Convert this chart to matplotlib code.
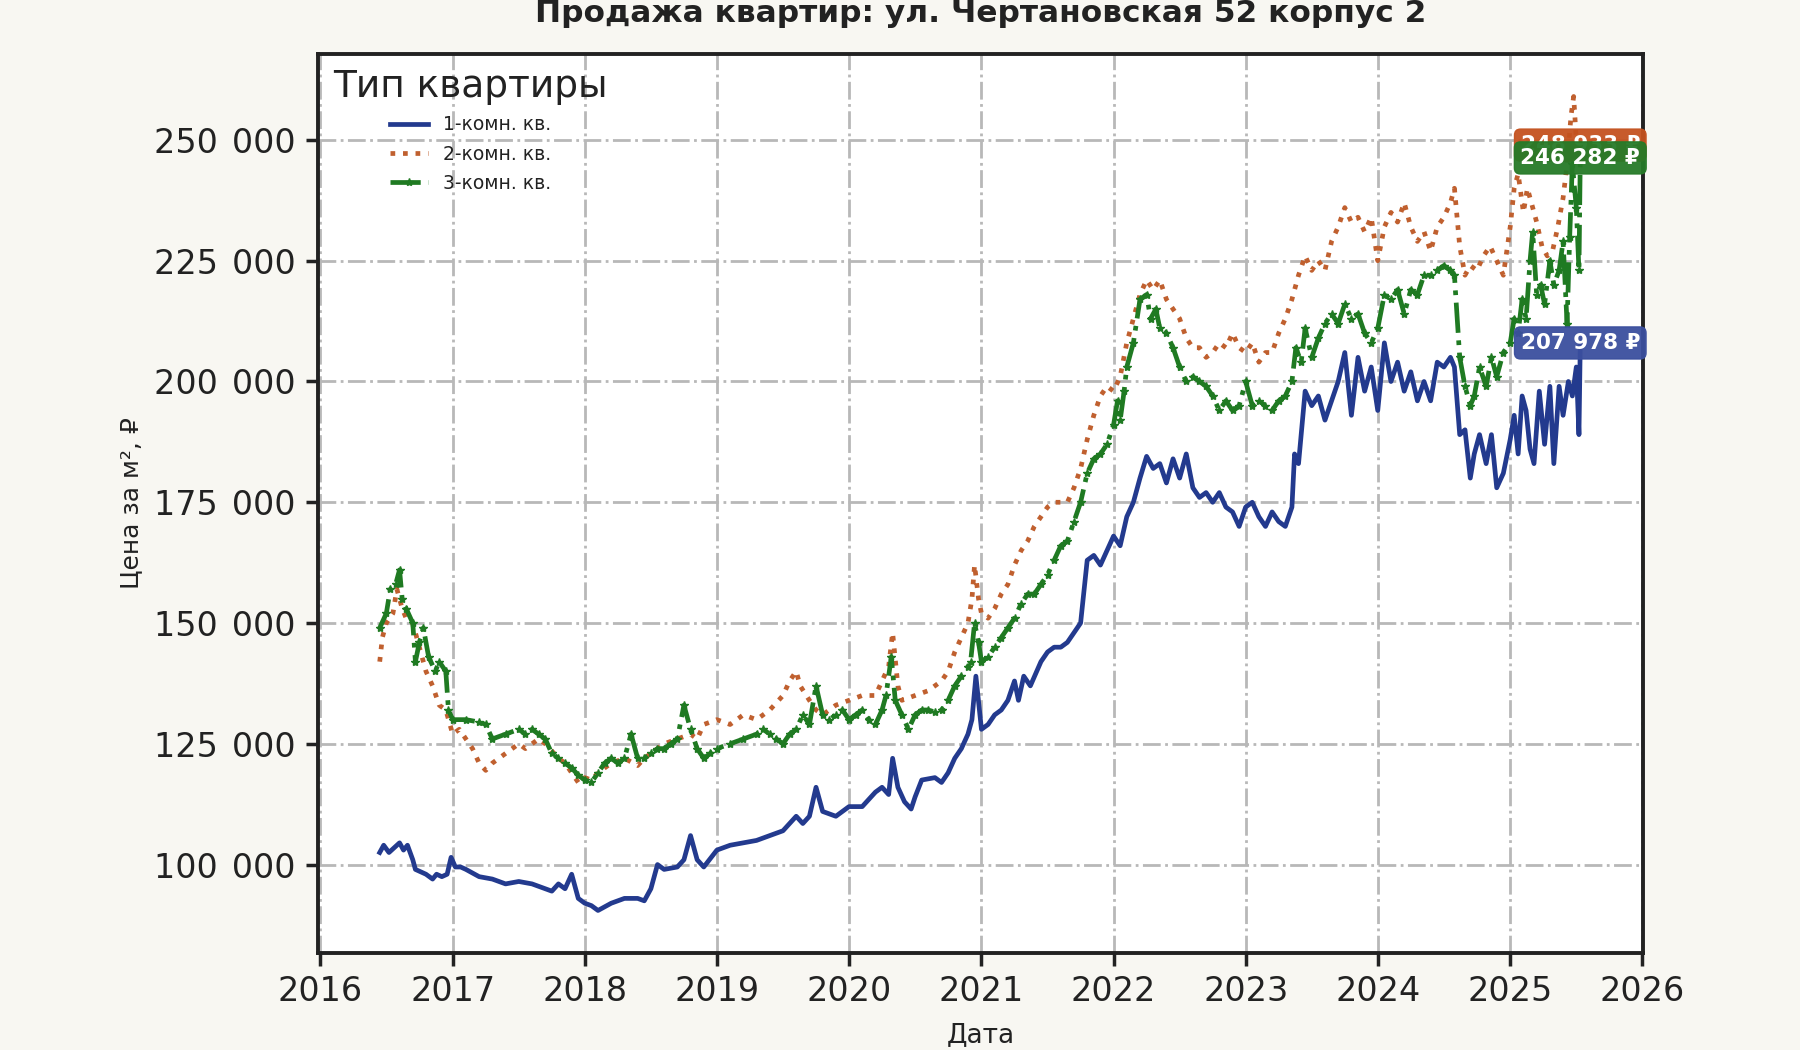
import matplotlib
matplotlib.use('Agg')
import matplotlib.pyplot as plt
import matplotlib.dates as mdates
from matplotlib.ticker import FuncFormatter
import pandas as pd

# price per m2, x as decimal years
years_1 = [2016.45, 2016.48, 2016.52, 2016.56, 2016.6, 2016.63, 2016.66, 2016.7, 2016.72, 2016.76,
           2016.8, 2016.85, 2016.88, 2016.92, 2016.96, 2016.99, 2017.02, 2017.06, 2017.1, 2017.2,
           2017.3, 2017.4, 2017.5, 2017.6, 2017.7, 2017.75, 2017.8, 2017.85, 2017.9, 2017.95,
           2018.0, 2018.05, 2018.1, 2018.2, 2018.3, 2018.4, 2018.45, 2018.5, 2018.55, 2018.6,
           2018.7, 2018.75, 2018.8, 2018.85, 2018.9, 2019.0, 2019.1, 2019.2, 2019.3, 2019.4,
           2019.5, 2019.6, 2019.65, 2019.7, 2019.75, 2019.8, 2019.9, 2020.0, 2020.1, 2020.2,
           2020.25, 2020.3, 2020.33, 2020.37, 2020.42, 2020.47, 2020.5, 2020.55, 2020.65, 2020.7,
           2020.75, 2020.8, 2020.85, 2020.9, 2020.93, 2020.96, 2021.0, 2021.05, 2021.1, 2021.15,
           2021.2, 2021.25, 2021.28, 2021.32, 2021.37, 2021.45, 2021.5, 2021.55, 2021.6, 2021.65,
           2021.7, 2021.75, 2021.8, 2021.85, 2021.9, 2021.95, 2022.0, 2022.05, 2022.1, 2022.15,
           2022.2, 2022.25, 2022.3, 2022.35, 2022.4, 2022.45, 2022.5, 2022.55, 2022.6, 2022.65,
           2022.7, 2022.75, 2022.8, 2022.85, 2022.9, 2022.95, 2023.0, 2023.05, 2023.1, 2023.15,
           2023.2, 2023.25, 2023.3, 2023.35, 2023.37, 2023.4, 2023.45, 2023.5, 2023.55, 2023.6,
           2023.65, 2023.7, 2023.75, 2023.8, 2023.85, 2023.9, 2023.95, 2024.0, 2024.05, 2024.1,
           2024.15, 2024.2, 2024.25, 2024.3, 2024.35, 2024.4, 2024.45, 2024.5, 2024.55, 2024.58,
           2024.62, 2024.66, 2024.7, 2024.73, 2024.77, 2024.82, 2024.86, 2024.9, 2024.95, 2025.0,
           2025.03, 2025.06, 2025.09, 2025.12, 2025.15, 2025.18, 2025.22, 2025.26, 2025.3, 2025.33,
           2025.37, 2025.4, 2025.44, 2025.47, 2025.5, 2025.52, 2025.53]
price_1 = [102500, 104000, 102500, 103500, 104500, 103000, 104000, 101000, 99000, 98500,
           98000, 97000, 98000, 97500, 98000, 101500, 99500, 99500, 99000, 97500,
           97000, 96000, 96500, 96000, 95000, 94500, 96000, 95000, 98000, 93000,
           92000, 91500, 90500, 92000, 93000, 93000, 92500, 95000, 100000, 99000,
           99500, 101000, 106000, 101000, 99500, 103000, 104000, 104500, 105000, 106000,
           107000, 110000, 108500, 110000, 116000, 111000, 110000, 112000, 112000, 115000,
           116000, 114500, 122000, 116000, 113000, 111500, 114000, 117500, 118000, 117000,
           119000, 122000, 124000, 127000, 130000, 139000, 128000, 129000, 131000, 132000,
           134000, 138000, 134000, 139000, 137000, 142000, 144000, 145000, 145000, 146000,
           148000, 150000, 163000, 164000, 162000, 165000, 168000, 166000, 172000, 175000,
           180000, 184500, 182000, 183000, 179000, 184000, 180000, 185000, 178000, 176000,
           177000, 175000, 177000, 174000, 173000, 170000, 174000, 175000, 172000, 170000,
           173000, 171000, 170000, 174000, 185000, 183000, 198000, 195000, 197000, 192000,
           196000, 200000, 206000, 193000, 205000, 198000, 203000, 194000, 208000, 200000,
           204000, 198000, 202000, 196000, 200000, 196000, 204000, 203000, 205000, 203000,
           189000, 190000, 180000, 185000, 189000, 183000, 189000, 178000, 181000, 188000,
           193000, 185000, 197000, 194000, 186000, 183000, 198000, 187000, 199000, 183000,
           199000, 193000, 200000, 197000, 203000, 189000, 207978]

years_2 = [2016.45, 2016.47, 2016.5, 2016.55, 2016.58, 2016.62, 2016.65, 2016.7, 2016.75, 2016.8,
           2016.85, 2016.9, 2016.95, 2017.0, 2017.05, 2017.1, 2017.15, 2017.2, 2017.25, 2017.3,
           2017.35, 2017.4, 2017.5, 2017.55, 2017.6, 2017.65, 2017.7, 2017.8, 2017.85, 2017.9,
           2017.95, 2018.0, 2018.05, 2018.1, 2018.15, 2018.2, 2018.3, 2018.4, 2018.45, 2018.5,
           2018.6, 2018.7, 2018.8, 2018.85, 2018.9, 2019.0, 2019.1, 2019.2, 2019.3, 2019.4,
           2019.5, 2019.55, 2019.6, 2019.63, 2019.7, 2019.75, 2019.8, 2019.9, 2020.0, 2020.1,
           2020.2, 2020.25, 2020.3, 2020.33, 2020.37, 2020.4, 2020.5, 2020.6, 2020.7, 2020.75,
           2020.8, 2020.85, 2020.9, 2020.93, 2020.95, 2020.98, 2021.0, 2021.05, 2021.1, 2021.15,
           2021.2, 2021.25, 2021.3, 2021.35, 2021.4, 2021.45, 2021.5, 2021.55, 2021.6, 2021.65,
           2021.7, 2021.75, 2021.8, 2021.85, 2021.9, 2021.95, 2022.0, 2022.05, 2022.1, 2022.15,
           2022.2, 2022.25, 2022.3, 2022.35, 2022.4, 2022.45, 2022.5, 2022.55, 2022.6, 2022.65,
           2022.7, 2022.75, 2022.8, 2022.85, 2022.9, 2022.95, 2023.0, 2023.05, 2023.1, 2023.15,
           2023.2, 2023.25, 2023.3, 2023.35, 2023.4, 2023.45, 2023.5, 2023.55, 2023.6, 2023.65,
           2023.7, 2023.75, 2023.8, 2023.85, 2023.9, 2023.95, 2024.0, 2024.05, 2024.1, 2024.15,
           2024.2, 2024.25, 2024.3, 2024.35, 2024.4, 2024.45, 2024.5, 2024.55, 2024.58, 2024.62,
           2024.66, 2024.7, 2024.75, 2024.8, 2024.85, 2024.9, 2024.95, 2025.0, 2025.03, 2025.06,
           2025.1, 2025.13, 2025.16, 2025.2, 2025.24, 2025.28, 2025.32, 2025.36, 2025.4, 2025.43,
           2025.46, 2025.48, 2025.5, 2025.53]
price_2 = [142000, 147000, 150000, 152000, 157000, 153000, 151000, 150000, 145000, 140000,
           137000, 133000, 132000, 127000, 128000, 126000, 124000, 121000, 119500, 121000,
           122000, 123000, 125000, 124000, 125000, 126000, 125000, 122000, 121000, 119000,
           117000, 118000, 117500, 119000, 120000, 121000, 122000, 120500, 122000, 123000,
           125000, 126000, 127000, 126000, 129000, 130000, 129000, 131000, 130000, 132000,
           135000, 138000, 140000, 137000, 134000, 132000, 131000, 133000, 134000, 135000,
           135000, 138000, 141000, 148000, 137000, 134000, 135000, 136000, 138000, 140000,
           144000, 147000, 150000, 155000, 162000, 155000, 152000, 151000, 153000, 156000,
           158000, 162000, 165000, 167000, 170000, 172000, 174000, 175000, 175000, 175000,
           178000, 182000, 188000, 193000, 197000, 199000, 198000, 201000, 208000, 213000,
           218000, 221000, 219000, 221000, 217000, 215000, 213000, 209000, 207000, 207000,
           205000, 206000, 208000, 207000, 210000, 207000, 206000, 208000, 204000, 206000,
           206000, 210000, 213000, 217000, 222000, 226000, 223000, 225000, 223000, 229000,
           232000, 236000, 233000, 234000, 231000, 234000, 225000, 232000, 235000, 233000,
           237000, 232000, 229000, 231000, 227000, 232000, 234000, 237000, 240000, 228000,
           222000, 224000, 223000, 226000, 228000, 225000, 222000, 232000, 240000, 243000,
           235000, 240000, 237000, 233000, 228000, 226000, 227000, 232000, 238000, 245000,
           255000, 259000, 250000, 248933]

years_3 = [2016.45, 2016.5, 2016.53, 2016.57, 2016.6, 2016.62, 2016.65, 2016.7, 2016.72, 2016.75,
           2016.78, 2016.82, 2016.87, 2016.9, 2016.95, 2016.97, 2017.0, 2017.1, 2017.2, 2017.25,
           2017.3, 2017.4, 2017.5, 2017.55, 2017.6, 2017.65, 2017.7, 2017.75, 2017.8, 2017.85,
           2017.9, 2017.95, 2018.0, 2018.05, 2018.1, 2018.15, 2018.2, 2018.25, 2018.3, 2018.35,
           2018.4, 2018.45, 2018.5, 2018.55, 2018.6, 2018.65, 2018.7, 2018.75, 2018.8, 2018.85,
           2018.9, 2018.95, 2019.0, 2019.1, 2019.2, 2019.3, 2019.35, 2019.4, 2019.45, 2019.5,
           2019.55, 2019.6, 2019.65, 2019.7, 2019.75, 2019.8, 2019.85, 2019.9, 2019.95, 2020.0,
           2020.05, 2020.1, 2020.15, 2020.2, 2020.25, 2020.28, 2020.32, 2020.35, 2020.4, 2020.45,
           2020.5, 2020.55, 2020.6, 2020.65, 2020.7, 2020.75, 2020.8, 2020.85, 2020.9, 2020.92,
           2020.95, 2020.98, 2021.0, 2021.05, 2021.1, 2021.15, 2021.2, 2021.25, 2021.3, 2021.35,
           2021.4, 2021.45, 2021.5, 2021.55, 2021.6, 2021.65, 2021.7, 2021.75, 2021.8, 2021.85,
           2021.9, 2021.95, 2022.0, 2022.03, 2022.05, 2022.08, 2022.1, 2022.15, 2022.2, 2022.25,
           2022.28, 2022.32, 2022.35, 2022.4, 2022.45, 2022.5, 2022.55, 2022.6, 2022.65, 2022.7,
           2022.75, 2022.8, 2022.85, 2022.9, 2022.95, 2023.0, 2023.05, 2023.1, 2023.15, 2023.2,
           2023.25, 2023.3, 2023.35, 2023.38, 2023.42, 2023.45, 2023.5, 2023.55, 2023.6, 2023.65,
           2023.7, 2023.75, 2023.8, 2023.85, 2023.9, 2023.95, 2024.0, 2024.05, 2024.1, 2024.15,
           2024.2, 2024.25, 2024.3, 2024.35, 2024.4, 2024.45, 2024.5, 2024.55, 2024.58, 2024.62,
           2024.66, 2024.7, 2024.73, 2024.77, 2024.82, 2024.86, 2024.9, 2024.95, 2025.0, 2025.03,
           2025.06, 2025.09, 2025.12, 2025.15, 2025.17, 2025.2, 2025.23, 2025.26, 2025.3, 2025.33,
           2025.37, 2025.4, 2025.43, 2025.45, 2025.47, 2025.5, 2025.52, 2025.53]
price_3 = [149000, 152000, 157000, 158000, 161000, 155000, 153000, 150000, 142000, 146000,
           149000, 143000, 140000, 142000, 140000, 132000, 130000, 130000, 129500, 129000,
           126000, 127000, 128000, 127000, 128000, 127000, 126000, 123000, 122000, 121000,
           120000, 118500, 117500, 117000, 119000, 121000, 122000, 121000, 122000, 127000,
           122000, 122000, 123000, 124000, 124000, 125000, 126000, 133000, 128000, 124000,
           122000, 123000, 124000, 125000, 126000, 127000, 128000, 127000, 126000, 125000,
           127000, 128000, 131000, 129000, 137000, 131000, 130000, 131000, 132000, 130000,
           131000, 132000, 130000, 129000, 132000, 135000, 143000, 134000, 131000, 128000,
           131000, 132000, 132000, 131500, 132000, 134000, 137000, 139000, 141000, 142000,
           150000, 146000, 142000, 143000, 145000, 147000, 149000, 151000, 154000, 156000,
           156000, 158000, 160000, 163000, 166000, 167000, 171000, 175000, 181000, 184000,
           185000, 187000, 191000, 196000, 192000, 198000, 203000, 208000, 217000, 218000,
           213000, 215000, 211000, 210000, 207000, 203000, 200000, 201000, 200000, 199000,
           197000, 194000, 196000, 194000, 195000, 200000, 195000, 196000, 195000, 194000,
           196000, 197000, 200000, 207000, 204000, 211000, 205000, 209000, 212000, 214000,
           212000, 216000, 213000, 214000, 210000, 208000, 211000, 218000, 217000, 219000,
           214000, 219000, 218000, 222000, 222000, 223000, 224000, 223000, 222000, 205000,
           199000, 195000, 197000, 203000, 199000, 205000, 201000, 206000, 208000, 213000,
           210000, 217000, 213000, 225000, 231000, 218000, 220000, 216000, 225000, 220000,
           223000, 229000, 212000, 230000, 245000, 236000, 223000, 246282]

labels = ['1-комн. кв.', '2-комн. кв.', '3-комн. кв.']
colors = ['#233a8e', '#c0602f', '#1f7a22']
box_colors = ['#3b4f9e', '#c4521f', '#267a28']


def to_dates(years):
    # decimal year -> timestamp
    out = []
    for y in years:
        base = int(y)
        start = pd.Timestamp(year=base, month=1, day=1)
        out.append(start + pd.Timedelta(days=(y - base) * 365.25))
    return out


def fmt_thousands(v, sep=' '):
    return f'{v:,.0f}'.replace(',', sep)


plt.rcParams['font.family'] = 'DejaVu Sans'

fig = plt.figure(figsize=(18, 10.5), dpi=100, facecolor='#f8f7f2')
ax = fig.add_axes([0.1767, 0.0924, 0.7361, 0.8562])
ax.set_facecolor('white')

series = [(years_1, price_1), (years_2, price_2), (years_3, price_3)]
styles = [dict(linestyle='-', linewidth=3.4),
          dict(linestyle=':', linewidth=3.4),
          dict(linestyle='-.', linewidth=3.4, marker='*', markersize=6)]

for (yrs, vals), lab, col, st in zip(series, labels, colors, styles):
    ax.plot(to_dates(yrs), vals, color=col, label=lab, **st)

# value boxes at the last point of each series
for (yrs, vals), bc in zip(series, box_colors):
    ax.annotate(fmt_thousands(vals[-1]) + ' ₽', xy=(to_dates(yrs)[-1], vals[-1]),
                ha='center', va='center', fontsize=15.5, fontweight='bold', color='white',
                bbox=dict(boxstyle='round,pad=0.28', fc=bc, ec=bc, alpha=0.95),
                annotation_clip=False, zorder=10)

ax.set_xlim(pd.Timestamp('2015-12-26'), pd.Timestamp('2026-01-03'))
ax.set_ylim(81700, 267800)
ax.xaxis.set_major_locator(mdates.YearLocator())
ax.xaxis.set_major_formatter(mdates.DateFormatter('%Y'))
ax.yaxis.set_major_formatter(FuncFormatter(lambda v, pos: fmt_thousands(v, ' \u200a')))
ax.set_yticks([100000, 125000, 150000, 175000, 200000, 225000, 250000])

ax.grid(True, color='#b8b8b8', linestyle='-.', linewidth=2)
ax.set_axisbelow(True)
for s in ax.spines.values():
    s.set_linewidth(2.8)
    s.set_color('#222222')
ax.tick_params(axis='both', which='major', labelsize=24, length=9, width=2.5,
               color='#222222', labelcolor='#222222', pad=7)

ax.set_xlabel('Дата', fontsize=19, color='#222222', labelpad=10)
ax.set_ylabel('Цена за м², ₽', fontsize=18, color='#222222', labelpad=8)
fig.text(0.545, 0.987, 'Продажа квартир: ул. Чертановская 52 корпус 2', fontsize=22.5,
         fontweight='bold', color='#222222', ha='center', va='center')

leg = ax.legend(title='Тип квартиры', loc='upper left', fontsize=13.5, title_fontsize=27,
                frameon=False, handlelength=2.0, borderaxespad=0.4, labelspacing=0.55)
leg.get_title().set_color('#222222')
for t in leg.get_texts():
    t.set_color('#222222')

fig.savefig('out.png', dpi=100, facecolor=fig.get_facecolor())
